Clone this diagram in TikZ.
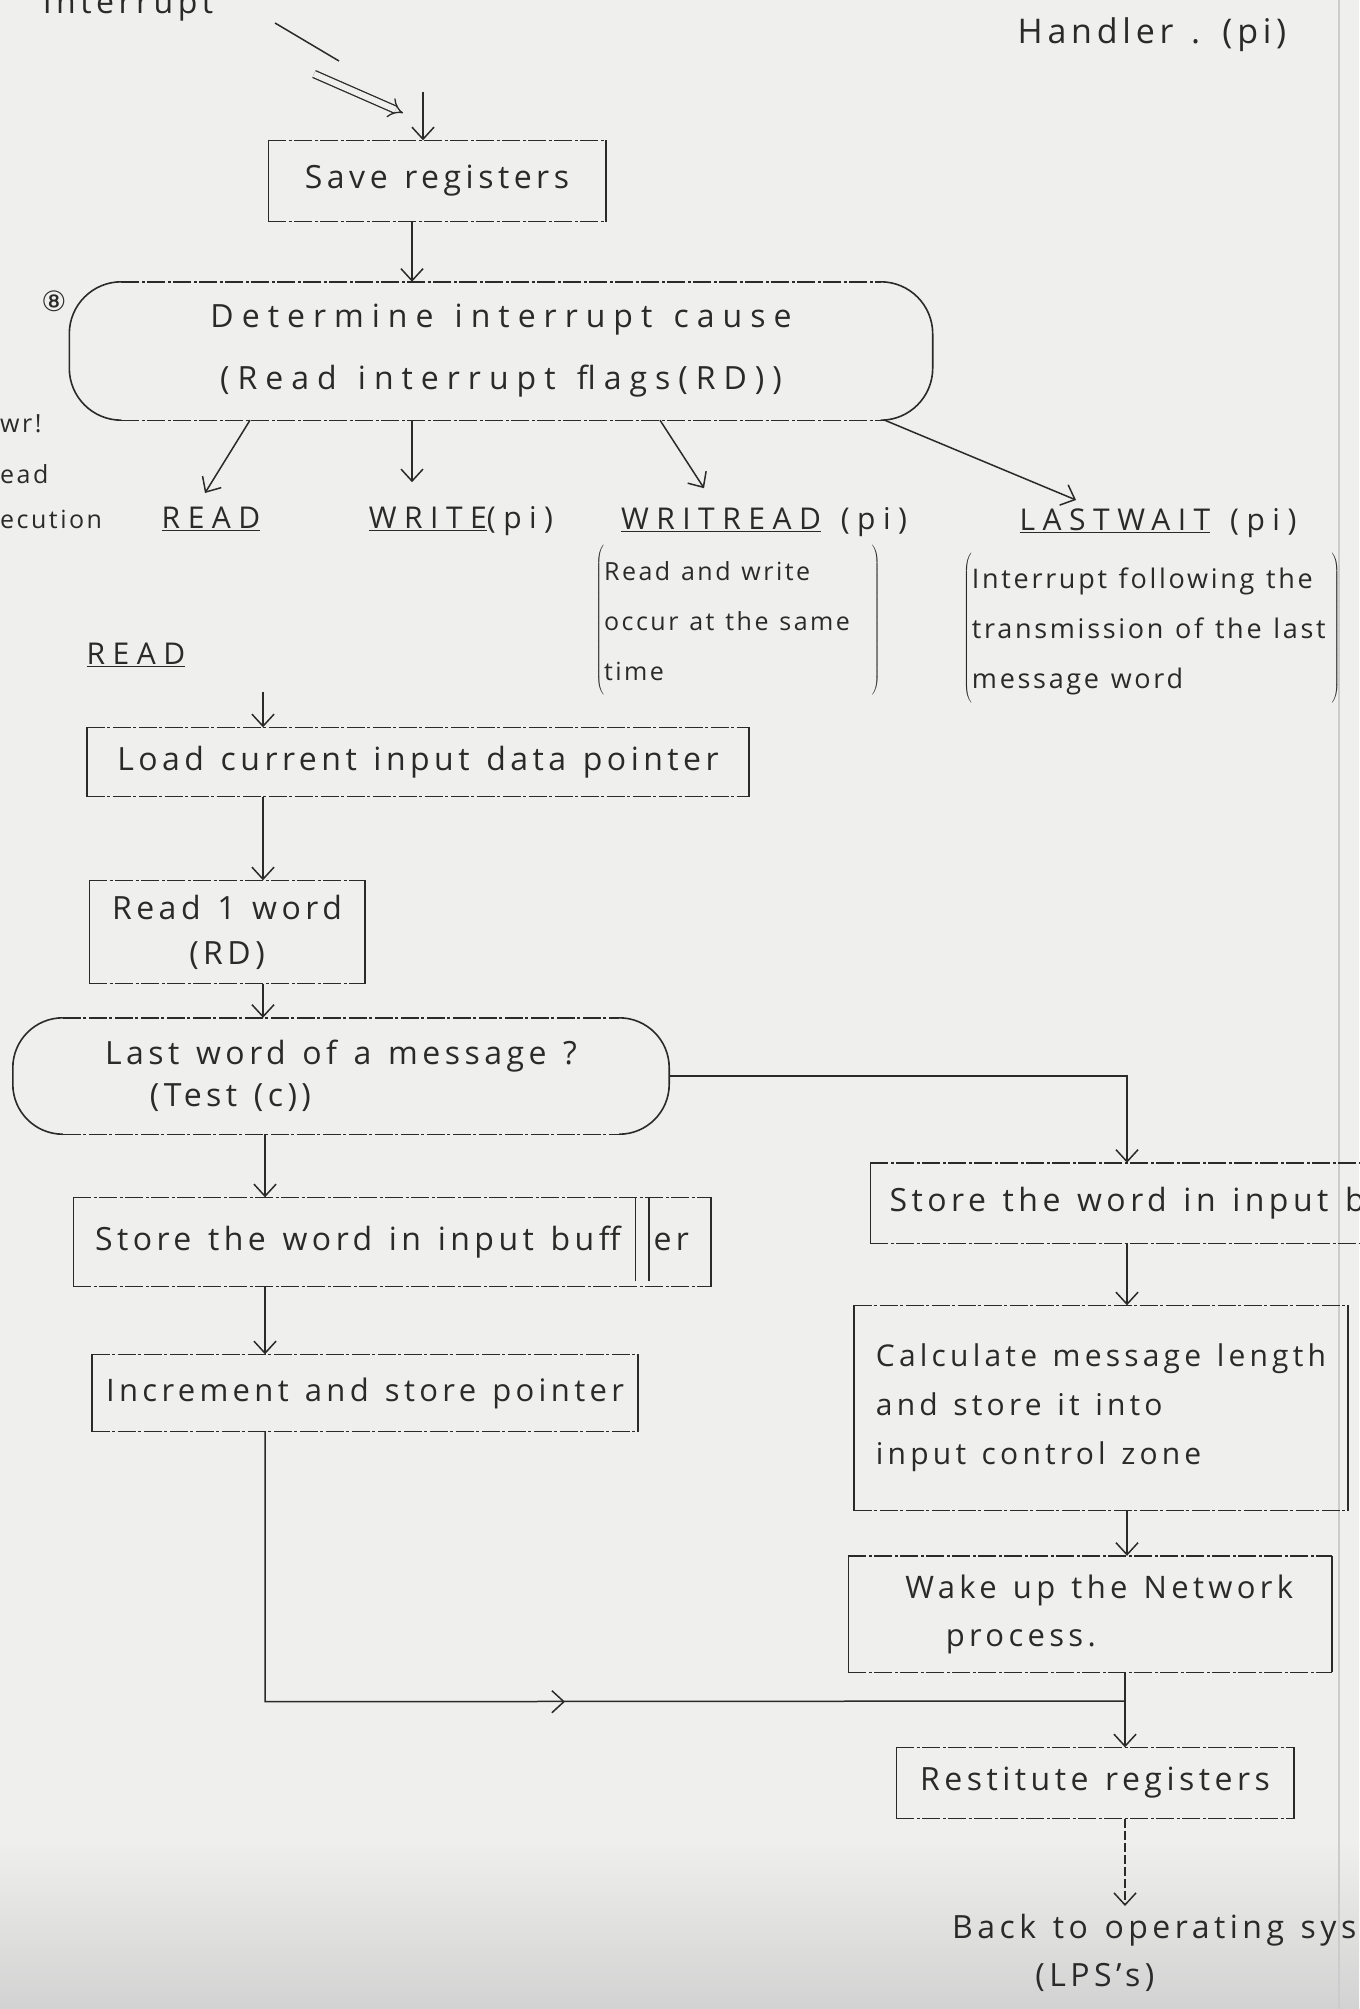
\documentclass[tikz,border=0pt]{standalone}
\usepackage{fontspec}
\setmainfont{Open Sans}[LetterSpace=14, WordSpace=1.3]
\newfontfamily\wideface{Open Sans}[LetterSpace=25, WordSpace=1.3]
\newfontfamily\noteface{Open Sans}[LetterSpace=10, WordSpace=1.2]
\newfontfamily\symface{DejaVu Sans}
\usetikzlibrary{arrows.meta,calc}
\definecolor{ink}{HTML}{2A2A2A}
\definecolor{paper}{HTML}{EFEFED}

\tikzset{
  every node/.style={text=ink, inner sep=0pt},
  big/.style={font=\fontsize{32}{46}\selectfont, align=center},
  bigw/.style={font=\wideface\fontsize{32}{62}\selectfont, align=center},
  lbl/.style={font=\wideface\fontsize{30}{40}\selectfont},
  note/.style={font=\noteface\fontsize{25}{50}\selectfont},
  conn/.style={draw=ink, line width=1.5pt, -{Straight Barb[length=12pt,width=22pt]}},
  plain/.style={draw=ink, line width=1.5pt},
  hedge/.style={draw=ink, line width=1.4pt, dash pattern=on 18pt off 2.5pt on 3pt off 2.5pt},
  vedge/.style={draw=ink, line width=1.6pt},
}

\newcommand\sketchbox[1]{%
  \draw[hedge] (#1.north west) -- (#1.north east) (#1.south west) -- (#1.south east);
  \draw[vedge] (#1.north west) -- (#1.south west) (#1.north east) -- (#1.south east);}

\newcommand\sketchstadium[2]{%
  \draw[vedge, rounded corners=#2pt] ($(#1.north west)+(#2,0)$) -- (#1.north west) -- (#1.south west) -- ($(#1.south west)+(#2,0)$);
  \draw[vedge, rounded corners=#2pt] ($(#1.north east)+(-#2,0)$) -- (#1.north east) -- (#1.south east) -- ($(#1.south east)+(-#2,0)$);
  \draw[hedge] ($(#1.north west)+(#2,0)$) -- ($(#1.north east)+(-#2,0)$) ($(#1.south west)+(#2,0)$) -- ($(#1.south east)+(-#2,0)$);}

\begin{document}
\begin{tikzpicture}[x=1pt,y=-1pt]
\useasboundingbox (0,0) rectangle (1359,2009);
\fill[paper] (0,0) rectangle (1359,2009);
\shade[top color=paper, bottom color=gray!35] (0,1840) rectangle (1359,2009);
\draw[gray!40, line width=2.5pt] (1339,0) -- (1339,2009);

% ---------- header texts
\node[big, anchor=base] (intr) at (128,14) {Interrupt};
\node[font=\fontsize{34}{40}\selectfont, anchor=base] (handler) at (1152,44) {Handler . (pi)};

% ---------- interrupt arrow
\coordinate (i1) at (275,23);
\coordinate (i2) at (339,61);
\coordinate (i3) at (314,74);
\coordinate (i4) at (403,113);
\coordinate (itop) at (423,92);
\draw[plain] (i1) -- (i2);
\draw[ink, line width=1.3pt, double=paper, double distance=6pt, -{Implies}] (i3) -- (i4);

% ---------- top part
\node[big, minimum width=337pt, minimum height=81pt] (save) at (437,181) {Save registers};
\sketchbox{save}
\draw[conn] (itop) -- ([xshift=-14pt]save.north);

\node[bigw, minimum width=863pt, minimum height=138pt] (det) at (501,351)
  {Determine interrupt cause\\(Read interrupt flags(RD))};
\sketchstadium{det}{52}
\draw[conn] ([xshift=-25pt]save.south) -- ([xshift=-89pt]det.north);

\node[font=\symface\fontsize{28}{30}\selectfont] (mark) at (54,301) {⑧};

% cut-off margin notes
\node[note, anchor=west] (m1) at (0,424) {wr!};
\node[note, anchor=west] (m2) at (0,474) {ead};
\node[note, anchor=west] (m3) at (0,519) {ecution};

% ---------- interrupt causes
\node[lbl] (readA) at (211,519) {\underline{READ}};
\node[lbl] (writeA) at (461,521) {\underline{WRITE}(pi)};
\node[lbl] (wrA) at (764,522) {\underline{WRITREAD} (pi)};
\node[lbl] (lwA) at (1158,523) {\underline{LASTWAIT} (pi)};

\node[note] (wrN) at (738,620)
  {$\left(\begin{tabular}{@{}l@{\hspace{22pt}}}Read and write\\occur at the same\\time\end{tabular}\right)$};
\node[note, anchor=west, font=\noteface\fontsize{27}{50}\selectfont] (lwN) at (963,628)
  {$\left(\begin{tabular}{@{}l@{\hspace{6pt}}}Interrupt following the\\transmission of the last\\message word\end{tabular}\right)$};

\draw[conn] ([xshift=-251pt]det.south) -- (205,493);
\draw[conn] ([xshift=-89pt]det.south) -- ++(0,62);
\draw[conn] ([xshift=159pt]det.south) -- ++(44,68);
\draw[conn] ([xshift=-48pt]det.south east) -- (1076,500);

% ---------- READ branch
\node[lbl] (read2) at (136,655) {\underline{READ}};
\coordinate (r2) at (263,692);

\node[big, minimum width=662pt, minimum height=69pt] (load) at (418,762) {Load current input data pointer};
\sketchbox{load}
\draw[conn] (r2) -- ([xshift=-155pt]load.north);

\node[big, minimum width=275pt, minimum height=103pt, font=\fontsize{32}{45}\selectfont] (rd1) at (227,932) {Read 1 word\\(RD)};
\sketchbox{rd1}
\draw[conn] ([xshift=-155pt]load.south) -- ([xshift=36pt]rd1.north);

\node[big, align=left, minimum width=656pt, minimum height=116pt, font=\fontsize{32}{42}\selectfont] (last) at (341,1076)
  {Last word of a message ?\\\hspace*{1.4em}(Test (c))};
\sketchstadium{last}{50}
\draw[conn] ([xshift=36pt]rd1.south) -- ([xshift=-78pt]last.north);

\node[big, minimum width=637pt, minimum height=89pt] (lstore) at (392,1242)
  {Store the word in input buff\hspace{14pt}\smash{\rule[-31pt]{1.5pt}{83pt}}\hspace{12pt}\smash{\rule[-31pt]{1.5pt}{83pt}}\hspace{4pt}er};
\sketchbox{lstore}
\draw[conn] ([xshift=-76pt]last.south) -- ([xshift=-127pt]lstore.north);

\node[big, minimum width=546pt, minimum height=77pt, font=\fontsize{31}{40}\selectfont] (incr) at (365,1393) {Increment and store pointer};
\sketchbox{incr}
\draw[conn] ([xshift=-127pt]lstore.south) -- ([xshift=-100pt]incr.north);

% ---------- right branch
\node[big, minimum width=493pt, minimum height=80pt] (rstore) at (1117,1203)
  {\makebox[455pt][l]{Store the word in input buffer}};
\sketchbox{rstore}
\draw[conn] (last.east) -| ([xshift=10pt]rstore.north);

\node[big, align=left, minimum width=494pt, minimum height=205pt, font=\fontsize{30}{49}\selectfont] (calc) at (1101,1408)
  {Calculate message length\\and store it into\\input control zone};
\sketchbox{calc}
\draw[conn] ([xshift=10pt]rstore.south) -- ([xshift=26pt]calc.north);

\node[big, align=left, minimum width=483pt, minimum height=116pt, font=\fontsize{31}{48}\selectfont] (wake) at (1090,1614)
  {\hspace*{0.6em}Wake up the Network\\\hspace*{1.9em}process.};
\sketchbox{wake}
\draw[conn] ([xshift=26pt]calc.south) -- ([xshift=37pt]wake.north);

\node[big, minimum width=397pt, minimum height=71pt] (rest) at (1095,1783) {Restitute registers};
\sketchbox{rest}

% merge
\coordinate (mrg) at (1125,1701);
\draw[plain] ([xshift=-100pt]incr.south) -- ++(0,270) coordinate (cornerL) -- (mrg);
\draw[conn] (cornerL) -- ++(300,0);
\draw[conn] ([xshift=35pt]wake.south) -- ([xshift=30pt]rest.north);

% exit
\coordinate (backtop) at (1125,1906);
\draw[conn, dash pattern=on 9pt off 3pt] ([xshift=30pt]rest.south) -- (backtop);
\node[big, anchor=north west, align=left, font=\fontsize{32}{48}\selectfont] (back) at (952,1914)
  {Back to operating system\\\hspace*{2.6em}(LPS's)};
\end{tikzpicture}
\end{document}
